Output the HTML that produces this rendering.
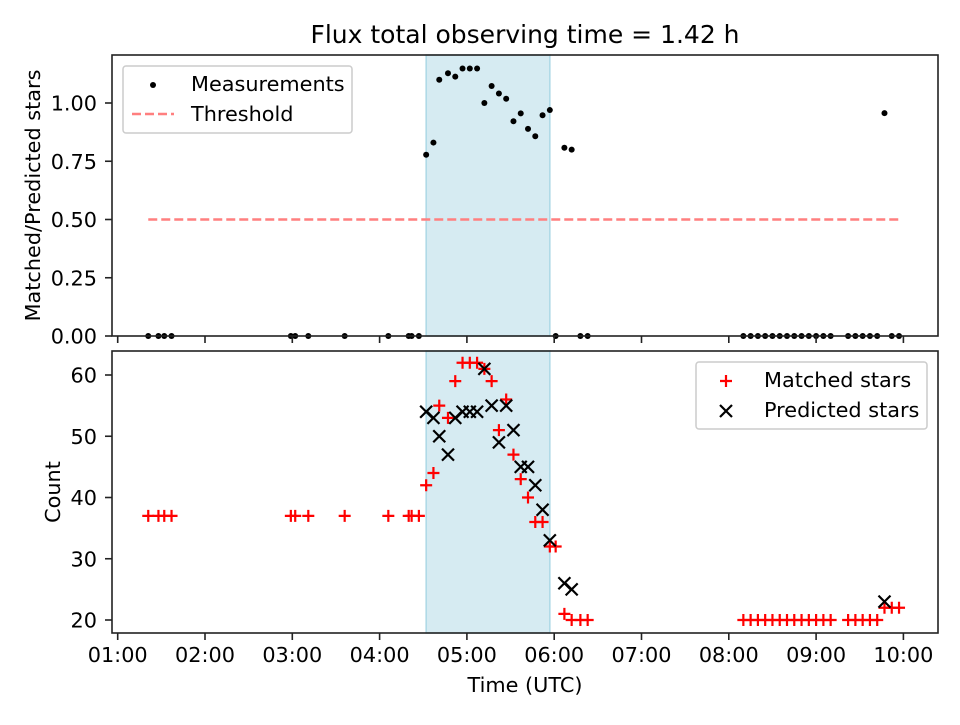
<!DOCTYPE html>
<html><head><meta charset="utf-8"><style>
body{margin:0;background:#fff}
svg text{font-family:"DejaVu Sans","Liberation Sans",sans-serif;fill:#000}
</style></head><body>
<svg id="c" width="960" height="720" viewBox="0 0 960 720" xmlns="http://www.w3.org/2000/svg"></svg>
<script>
const times=["01:21","01:28","01:32","01:37","02:59","03:02","03:11","03:36","04:06","04:20","04:22","04:27","04:32","04:37","04:41","04:47","04:52","04:57","05:02","05:07","05:12","05:17","05:22","05:27","05:32","05:37","05:42","05:47","05:52","05:57","06:01","06:07","06:12","06:18","06:23","08:10","08:15","08:20","08:25","08:30","08:35","08:40","08:45","08:50","08:55","09:00","09:05","09:10","09:22","09:27","09:32","09:37","09:42","09:47","09:52","09:57"];
const matched=[37,37,37,37,37,37,37,37,37,37,37,37,42,44,55,53,59,62,62,62,61,59,51,56,47,43,40,36,36,32,32,21,20,20,20,20,20,20,20,20,20,20,20,20,20,20,20,20,20,20,20,20,20,22,22,22];
const predicted=[0,0,0,0,0,0,0,0,0,0,0,0,54,53,50,47,53,54,54,54,61,55,49,55,51,45,45,42,38,33,0,26,25,0,0,0,0,0,0,0,0,0,0,0,0,0,0,0,0,0,0,0,0,23,0,0];
const spanStart="04:32", spanEnd="05:57";
const threshold=0.5;
const topTicks=[0,0.25,0.5,0.75,1.0];
const botTicks=[20,30,40,50,60];
const xTickLabels=["01:00","02:00","03:00","04:00","05:00","06:00","07:00","08:00","09:00","10:00"];

const svg=document.getElementById('c');
const NS="http://www.w3.org/2000/svg";
const FS=20.8;
function el(t,a,p){const e=document.createElementNS(NS,t);for(const k in a)e.setAttribute(k,a[k]);(p||svg).appendChild(e);return e;}
function hrs(s){const [h,m]=s.split(':').map(Number);return h+m/60;}
const L=112,R=938;
const x=h=>117.7+(h-1)*87.3;
const T0=55,T1=336, yt=v=>T1-v*233;
const B0=351,B1=633, yb=v=>620-(v-20)*6.125;

let t=el('text',{x:525,y:43,'font-size':25,'text-anchor':'middle'});t.textContent="Flux total observing time = 1.42 h";


function panel(top,bot,name){
  const g=el('g',{});
  
  
  const s=el('rect',{x:x(hrs(spanStart)),y:top,width:x(hrs(spanEnd))-x(hrs(spanStart)),height:bot-top,fill:'#add8e6','fill-opacity':0.5,stroke:'#add8e6','stroke-width':1.5},g);
  
  
  return g;
}
function frame(top,bot,g){
  el('rect',{x:L,y:top,width:R-L,height:bot-top,fill:'none',stroke:'#222','stroke-width':1.6},g);
}
function xticks(bot,g,labels){
  xTickLabels.forEach((lab,i)=>{
    const xx=x(i+1);
    el('line',{x1:xx,x2:xx,y1:bot,y2:bot+7,stroke:'#222','stroke-width':1.6},g);
    if(labels){const tt=el('text',{x:xx,y:bot+29,'font-size':FS,'text-anchor':'middle'},g);tt.textContent=lab;
      }
  });
}
const gt=panel(T0,T1,'ratio-panel');
const thr=el('line',{x1:x(hrs(times[0])),x2:x(hrs(times[times.length-1])),y1:yt(threshold),y2:yt(threshold),stroke:'#ff7f7f','stroke-width':2.4,'stroke-dasharray':'9,4'},gt);

times.forEach((tm,i)=>{
  const r=predicted[i]?matched[i]/predicted[i]:0;
  const d=el('circle',{cx:x(hrs(tm)),cy:yt(r),r:3,fill:'#000'},gt);
  
});
frame(T0,T1,gt);xticks(T1,gt,false);
topTicks.forEach(v=>{const yy=yt(v);el('line',{x1:L-7,x2:L,y1:yy,y2:yy,stroke:'#222','stroke-width':1.6},gt);
  const tt=el('text',{x:97,y:yy+7.5,'font-size':FS,'text-anchor':'end'},gt);tt.textContent=v.toFixed(2);
  });
let yl=el('text',{x:40,y:(T0+T1)/2,'font-size':FS,'text-anchor':'middle',transform:`rotate(-90 40 ${(T0+T1)/2})`});yl.textContent="Matched/Predicted stars";

const lg1=el('g',{});
el('rect',{x:123,y:66,width:229,height:67,rx:3,fill:'#fff','fill-opacity':0.8,stroke:'#ccc','stroke-width':1.5},lg1);
el('circle',{cx:153,cy:85,r:3,fill:'#000'},lg1);
let lt=el('text',{x:191,y:91,'font-size':FS},lg1);lt.textContent="Measurements";
el('line',{x1:132,x2:174,y1:114,y2:114,stroke:'#ff7f7f','stroke-width':2.4,'stroke-dasharray':'9,4'},lg1);
lt=el('text',{x:191,y:121,'font-size':FS},lg1);lt.textContent="Threshold";

const gb=panel(B0,B1,'count-panel');
function plus(cx,cy,g){return el('path',{d:`M${cx-6} ${cy}H${cx+6}M${cx} ${cy-6}V${cy+6}`,stroke:'#f00','stroke-width':2.2},g);}
function cross(cx,cy,g){return el('path',{d:`M${cx-6} ${cy-6}L${cx+6} ${cy+6}M${cx-6} ${cy+6}L${cx+6} ${cy-6}`,stroke:'#000','stroke-width':2.2},g);}
times.forEach((tm,i)=>{
  const p=plus(x(hrs(tm)),yb(matched[i]),gb);
  
});
times.forEach((tm,i)=>{
  if(!predicted[i])return;
  const c=cross(x(hrs(tm)),yb(predicted[i]),gb);
  
});
frame(B0,B1,gb);xticks(B1,gb,true);
botTicks.forEach(v=>{const yy=yb(v);el('line',{x1:L-7,x2:L,y1:yy,y2:yy,stroke:'#222','stroke-width':1.6},gb);
  const tt=el('text',{x:97,y:yy+7.5,'font-size':FS,'text-anchor':'end'},gb);tt.textContent=v;
  });
yl=el('text',{x:60,y:(B0+B1)/2,'font-size':FS,'text-anchor':'middle',transform:`rotate(-90 60 ${(B0+B1)/2})`});yl.textContent="Count";

let xl=el('text',{x:(L+R)/2,y:692,'font-size':FS,'text-anchor':'middle'});xl.textContent="Time (UTC)";

const lg2=el('g',{});
el('rect',{x:696,y:362,width:231,height:67,rx:3,fill:'#fff','fill-opacity':0.8,stroke:'#ccc','stroke-width':1.5},lg2);
plus(726,381,lg2);lt=el('text',{x:764,y:387,'font-size':FS},lg2);lt.textContent="Matched stars";
cross(726,411,lg2);lt=el('text',{x:764,y:417,'font-size':FS},lg2);lt.textContent="Predicted stars";
</script>
</body></html>
